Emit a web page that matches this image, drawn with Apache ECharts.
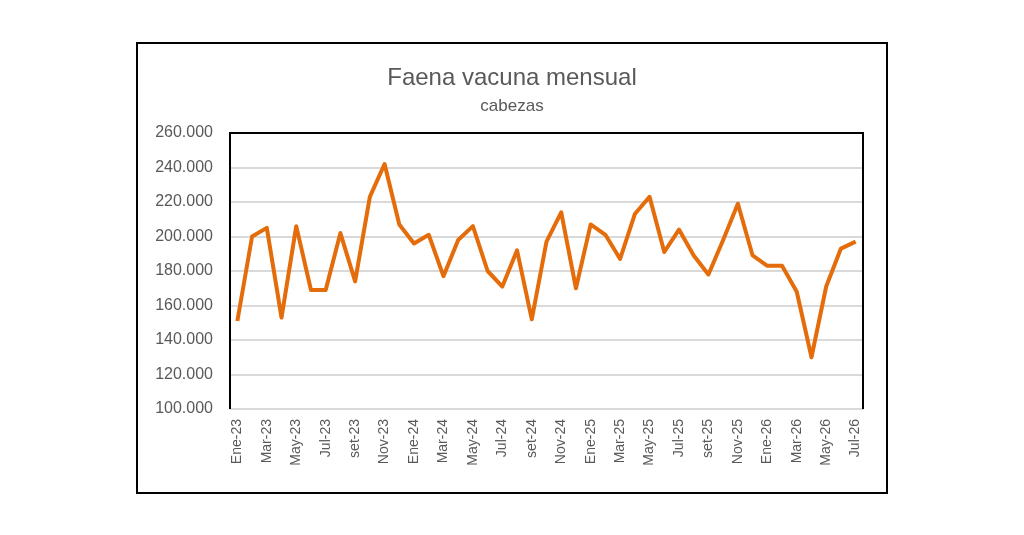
<!DOCTYPE html>
<html>
<head>
<meta charset="utf-8">
<script src="https://cdn.jsdelivr.net/npm/echarts@6/dist/echarts.min.js"></script>
<style>
  html, body { margin: 0; padding: 0; background: #fff; }
  #main { width: 1024px; height: 535px; }
</style>
</head>
<body>
<div id="main"></div>
<script>
// meses (Ene-23 .. Jul-26)
var meses = ['Ene', 'Feb', 'Mar', 'Abr', 'May', 'Jun', 'Jul', 'Ago', 'set', 'Oct', 'Nov', 'Dic'];
var categorias = [];
['23', '24', '25', '26'].forEach(function (a) {
    meses.forEach(function (m) { categorias.push(m + '-' + a); });
});
categorias = categorias.slice(0, 43);

// faena mensual, cabezas
var faena = [
    151000, 200000, 205000, 153000, 206000, 169000, 169000, 202000, 174000, 223000, 242000, 207000,
    196000, 201000, 177000, 198000, 206000, 180000, 171000, 192000, 152000, 197000, 214000, 170000,
    207000, 201000, 187000, 213000, 223000, 191000, 204000, 189000, 178000, 198000, 219000, 189000,
    183000, 183000, 168000, 130000, 171000, 193000, 197000
];

var yMin = 100000, yMax = 260000, yPaso = 20000;

function fmtMiles(v) {
    return String(v).replace(/\B(?=(\d{3})+(?!\d))/g, '.');
}

var chart = echarts.init(document.getElementById('main'));
chart.setOption({
    animation: false,
    backgroundColor: '#fff',
    title: {
        text: 'Faena vacuna mensual',
        subtext: 'cabezas',
        left: 'center',
        top: 61,
        itemGap: 8,
        textStyle: { fontFamily: 'Liberation Sans', fontSize: 24, fontWeight: 'normal', color: '#595959' },
        subtextStyle: { fontFamily: 'Liberation Sans', fontSize: 17, color: '#595959' }
    },
    graphic: [{
        // marco exterior
        type: 'rect',
        shape: { x: 137, y: 43, width: 750, height: 450 },
        style: { fill: 'none', stroke: '#000', lineWidth: 2 },
        z: -1
    }, {
        // borde del área de trazado (izq, arriba, der)
        type: 'polyline',
        shape: { points: [[230, 409], [230, 133], [863, 133], [863, 409]] },
        style: { fill: 'none', stroke: '#000', lineWidth: 2 },
        z: 5
    }],
    grid: {
        left: 230, top: 133, width: 633, height: 276
    },
    xAxis: {
        type: 'category',
        data: categorias,
        boundaryGap: true,
        axisLine: { lineStyle: { color: '#d9d9d9', width: 2 } },
        axisTick: { interval: 1, length: 6, lineStyle: { color: '#d9d9d9', width: 2 } },
        axisLabel: {
            interval: 1, rotate: 90, margin: 10,
            fontFamily: 'Liberation Sans', fontSize: 14, color: '#595959'
        }
    },
    yAxis: {
        type: 'value',
        min: yMin, max: yMax, interval: yPaso,
        axisLine: { show: false },
        axisTick: { show: false },
        splitLine: { lineStyle: { color: '#d9d9d9', width: 2 } },
        axisLabel: {
            margin: 17, formatter: fmtMiles,
            fontFamily: 'Liberation Sans', fontSize: 16, color: '#595959'
        }
    },
    series: [{
        type: 'line',
        data: faena,
        symbol: 'none',
        lineStyle: { color: '#E46C0A', width: 4, join: 'round' }
    }]
});
</script>
</body>
</html>
